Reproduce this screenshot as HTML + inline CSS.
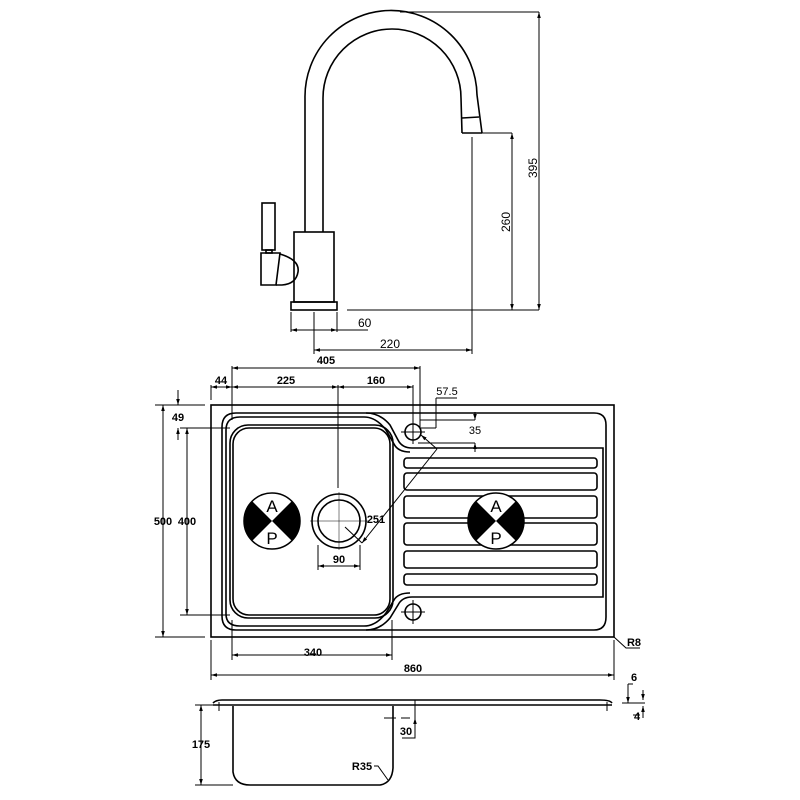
<!DOCTYPE html>
<html><head><meta charset="utf-8"><style>body{margin:0;background:#fff}svg{display:block}</style></head><body>
<svg width="800" height="800" viewBox="0 0 800 800" xmlns="http://www.w3.org/2000/svg" font-family="Liberation Sans, sans-serif">
<defs>
<marker id="a" viewBox="0 0 10 10" refX="10" refY="5" markerWidth="6" markerHeight="6" orient="auto-start-reverse"><path d="M0,2 L10,5 L0,8z" fill="#000"/></marker>
</defs>
<g fill="none" stroke="#000" stroke-width="1.6">
<!-- faucet -->
<path d="M305,232 V98 A86,86 0 0 1 477,95 L482,133"/>
<path d="M323,232 V98 A69,69 0 0 1 461,98 L462,133"/>
<path d="M462,118 L479,117 M462,133 H482"/>
<rect x="294" y="232" width="40" height="70"/>
<rect x="291" y="302" width="46" height="8"/>
<rect x="262" y="203" width="13" height="47"/>
<rect x="266" y="250" width="6" height="3"/>
<path d="M261,253 H280 L276,285 H261Z"/>
<path d="M280,254 Q300,260 298,272 Q296,284 282,285 L276,285"/>
</g>
<g fill="none" stroke="#000" stroke-width="1">
<path d="M400,12 H539 M347,310 H539 M482,133 H512"/>
<line x1="539" y1="12" x2="539" y2="310" marker-start="url(#a)" marker-end="url(#a)"/>
<line x1="512" y1="133" x2="512" y2="310" marker-start="url(#a)" marker-end="url(#a)"/>
<path d="M291,312 V332 M337,312 V332 M314,312 V354 M472,137 V354"/>
<line x1="291" y1="330" x2="337" y2="330" marker-start="url(#a)" marker-end="url(#a)"/>
<path d="M337,330 H368"/>
<line x1="314" y1="350" x2="472" y2="350" marker-start="url(#a)" marker-end="url(#a)"/>
</g>
<g font-size="12" fill="#000">
<text x="358" y="327">60</text>
<text x="380" y="348">220</text>
<text transform="translate(510,232) rotate(-90)">260</text>
<text transform="translate(537,178) rotate(-90)">395</text>
</g>
<!-- sink top -->
<g fill="none" stroke="#000" stroke-width="1.6">
<rect x="211" y="405" width="403" height="232"/>
<path d="M236,413 H594 Q606,413 606,425 V617 Q606,630 594,630 H236 Q222,630 222,616 V427 Q222,413 236,413Z"/>
<path d="M366,413 Q380,413 390,425 L398,440 Q402,448 412,448 H603 V597 H412 Q402,597 398,605 L390,618 Q380,630 366,630"/>
<path d="M240,417 H364 Q376,417 386,430 L394,444 Q398,452 410,452 M240,417 Q226,417 226,430 V614 Q226,626 240,626 H364 Q376,626 386,613 L394,600 Q398,593 410,593"/>
<rect x="230" y="425" width="163" height="193" rx="18"/>
<rect x="233" y="428" width="157" height="187" rx="16"/>
<rect x="404" y="458" width="193" height="10" rx="3"/>
<rect x="404" y="473" width="193" height="17" rx="3"/>
<rect x="404" y="496" width="193" height="22" rx="3"/>
<rect x="404" y="523" width="193" height="22" rx="3"/>
<rect x="404" y="551" width="193" height="17" rx="3"/>
<rect x="404" y="574" width="193" height="11" rx="3"/>
<circle cx="339" cy="521" r="27"/>
<circle cx="339" cy="521" r="21"/>
<circle cx="413" cy="432" r="8"/>
<circle cx="413" cy="612" r="8"/>
</g>
<g stroke="#000" stroke-width="1">
<path d="M401,432 H425 M413,420 V444 M401,612 H425 M413,600 V624"/>
<path d="M310,521 H368 M339,492 V550" stroke-width="0.5"/>
</g>
<!-- AP symbols -->
<g>
<circle cx="272" cy="521" r="28" fill="#fff" stroke="#000" stroke-width="1.5"/>
<path d="M272,521 L252,501 A28,28 0 0 0 252,541Z M272,521 L292,501 A28,28 0 0 1 292,541Z" fill="#000"/>
<circle cx="496" cy="521" r="28" fill="#fff" stroke="#000" stroke-width="1.5"/>
<path d="M496,521 L476,501 A28,28 0 0 0 476,541Z M496,521 L516,501 A28,28 0 0 1 516,541Z" fill="#000"/>
<g font-size="17" text-anchor="middle">
<text x="272" y="512">A</text><text x="272" y="544">P</text>
<text x="496" y="512">A</text><text x="496" y="544">P</text>
</g>
</g>
<!-- sink dims -->
<g fill="none" stroke="#000" stroke-width="1">
<path d="M232,366 V420 M420,366 V428 M211,385 V400 M338,385 V488 M413,385 V420 M155,405 H205 M155,637 H205 M180,428 H230 M180,615 H230 M232,620 V660 M392,620 V660 M211,640 V680 M614,640 V680 M318,545 V570 M360,545 V570"/>
<line x1="232" y1="368" x2="420" y2="368" marker-start="url(#a)" marker-end="url(#a)"/>
<line x1="211" y1="387" x2="232" y2="387" marker-start="url(#a)" marker-end="url(#a)"/>
<line x1="232" y1="387" x2="338" y2="387" marker-start="url(#a)" marker-end="url(#a)"/>
<line x1="338" y1="387" x2="413" y2="387" marker-start="url(#a)" marker-end="url(#a)"/>
<line x1="163" y1="405" x2="163" y2="637" marker-start="url(#a)" marker-end="url(#a)"/>
<line x1="187" y1="428" x2="187" y2="615" marker-start="url(#a)" marker-end="url(#a)"/>
<line x1="178" y1="390" x2="178" y2="405" marker-end="url(#a)"/>
<line x1="178" y1="440" x2="178" y2="428" marker-end="url(#a)"/>
<line x1="232" y1="655" x2="392" y2="655" marker-start="url(#a)" marker-end="url(#a)"/>
<line x1="211" y1="675" x2="614" y2="675" marker-start="url(#a)" marker-end="url(#a)"/>
<line x1="318" y1="566" x2="360" y2="566" marker-start="url(#a)" marker-end="url(#a)"/>
<path d="M436,398 H457 M436,398 V428 M420,428 H436 M420,420 H475 M418,443 H475"/>
<line x1="475" y1="412" x2="475" y2="420" marker-end="url(#a)"/>
<line x1="475" y1="452" x2="475" y2="443" marker-end="url(#a)"/>
<line x1="437" y1="449" x2="421" y2="435" marker-end="url(#a)"/>
<line x1="437" y1="449" x2="362" y2="543" marker-end="url(#a)"/>
<line x1="345" y1="527" x2="362" y2="543"/>
<path d="M614,637 L626,648 H640"/>
</g>
<g font-size="11" font-weight="bold" fill="#000" text-anchor="middle">
<text x="326" y="364">405</text>
<text x="221" y="384">44</text>
<text x="286" y="384">225</text>
<text x="376" y="384">160</text>
<text x="447" y="395" font-weight="normal">57.5</text>
<text x="475" y="434" font-weight="normal">35</text>
<text x="178" y="421">49</text>
<text x="163" y="525">500</text>
<text x="187" y="525">400</text>
<text x="376" y="523">251</text>
<text x="339" y="563">90</text>
<text x="313" y="656">340</text>
<text x="413" y="672">860</text>
<text x="634" y="646">R8</text>
</g>
<!-- side view -->
<g fill="none" stroke="#000" stroke-width="1.6">
<path d="M213,703 Q216,700 222,700 H600 Q610,700 612,703"/>
<path d="M213,705 H612"/>
<path d="M233,706 V772 Q235,785 250,785 H380 Q392,783 393,768 V706"/>
</g>
<g fill="none" stroke="#000" stroke-width="1">
<path d="M219,702 V711 M607,702 V711 M384,718 H396 M401,718 H410 M415,700 V738 H402 M195,705 H215 M195,785 H233 M622,703 H640 M627,703 H645 M628,684 H633 M633,715 H640"/>
<line x1="201" y1="705" x2="201" y2="785" marker-start="url(#a)" marker-end="url(#a)"/>
<line x1="415" y1="725" x2="415" y2="718" marker-end="url(#a)"/>
<line x1="628" y1="684" x2="628" y2="703" marker-end="url(#a)"/>
<line x1="643" y1="690" x2="643" y2="700" marker-end="url(#a)"/>
<line x1="643" y1="718" x2="643" y2="706" marker-end="url(#a)"/>
<path d="M374,766 H378 L388,780" />
</g>
<g font-size="11" font-weight="bold" fill="#000" text-anchor="middle">
<text x="201" y="748">175</text>
<text x="406" y="735">30</text>
<text x="362" y="770">R35</text>
<text x="634" y="681">6</text>
<text x="637" y="720">4</text>
</g>
</svg>
</body></html>
